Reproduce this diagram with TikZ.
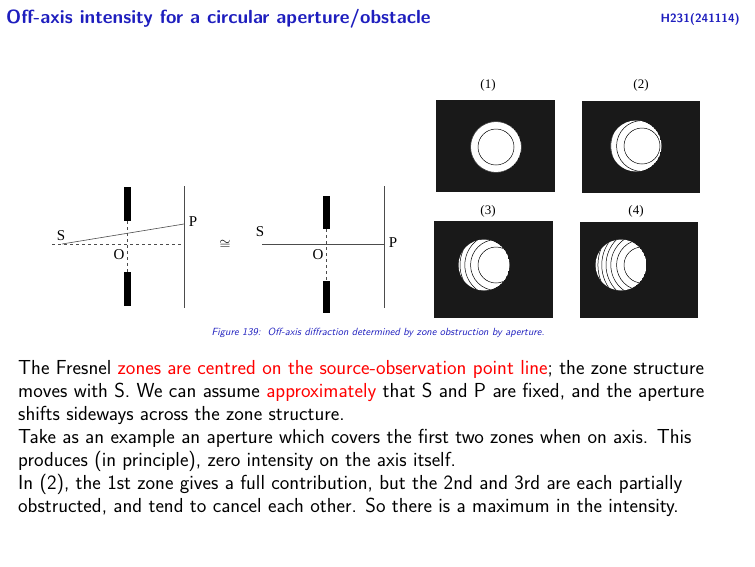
\documentclass[tikz,border=0pt]{standalone}
\usepackage{fontspec}
\newfontfamily\tms{Liberation Serif}
\usepackage{amssymb}
\begin{document}
\begin{tikzpicture}[x=1pt,y=-1pt,
  body/.style={anchor=base west,inner sep=0,font=\sffamily\fontsize{20.3}{24}\selectfont},
  lbl/.style={inner sep=0,font=\tms\fontsize{15}{16}\selectfont},
  plbl/.style={inner sep=0,font=\tms\fontsize{13}{14}\selectfont},
  bar/.style={fill=black},
  screen/.style={draw=black!70,line width=0.7pt},
  ray/.style={draw=black!70,line width=0.6pt},
  dsh/.style={draw=black!70,dashed,line width=0.6pt},
  zone/.style={draw=black,line width=0.5pt}]
\useasboundingbox (0,0) rectangle (755,566);
\definecolor{tblue}{RGB}{30,30,190}
\node[anchor=base west,inner sep=0,text=tblue,font=\sffamily\bfseries\fontsize{19}{22}\selectfont] (title) at (6,23) {Off-axis intensity for a circular aperture/obstacle};
\node[anchor=base east,inner sep=0,text=tblue,font=\sffamily\bfseries\fontsize{12}{14}\selectfont] (code) at (740,22) {H231(241114)};
% left diagram
\coordinate (s1) at (62,244); \coordinate (p1) at (184,224); \coordinate (d1) at (184,244); \coordinate (d0) at (52,244);
\draw[screen] (184,186) -- (184,308);
\fill[bar] (123.5,187) rectangle (130.5,221);
\fill[bar] (123.5,272) rectangle (130.5,306);
\draw[dsh] (127,221) -- (127,272);
\draw[dsh] (d0) -- (d1);
\draw[ray] (s1) -- (p1);
\node[lbl] (S1) at (61,236) {S};
\node[lbl] (O1) at (119,255) {O};
\node[lbl] (P1) at (193,222) {P};
\node[inner sep=0,font=\fontsize{14}{14}\selectfont] (approx) at (225,245) {$\cong$};
% right diagram
\coordinate (s2) at (262,244); \coordinate (p2) at (384,244);
\draw[screen] (384,186) -- (384,308);
\fill[bar] (322.5,196) rectangle (329.5,229);
\fill[bar] (322.5,281) rectangle (329.5,313);
\draw[dsh] (326,229) -- (326,281);
\draw[ray] (s2) -- (p2);
\node[lbl] (S2) at (260,232) {S};
\node[lbl] (O2) at (318,255) {O};
\node[lbl] (P2) at (393,243) {P};
% panels
\foreach \px/\py/\w/\h/\ax/\ay/\zx/\lab/\lx/\ly [count=\i] in
  {436/100/119/92/496/147/496/(1)/488/85, 582/101/118/92/636/146/642/(2)/641/85,
   434/221/119/97/484/265/496/(3)/488/211, 580/222/118/96/621/265/642/(4)/636/211}{
  \fill[black!90] (\px,\py) rectangle ++(\w,\h);
  \begin{scope}
    \clip (\ax,\ay) circle (25.5);
    \fill[white] (\ax,\ay) circle (25.5);
    \foreach \n in {1,...,8}{\draw[zone] (\zx,\ay) circle ({18*sqrt(\n)});}
  \end{scope}
  \node[plbl] (lab\i) at (\lx,\ly) {\lab};
}
\node[inner sep=0,text=tblue,font=\sffamily\itshape\fontsize{10.4}{12}\selectfont] (cap) at (378,333) {Figure 139:\ \ Off-axis diffraction determined by zone obstruction by aperture.};
% body
\node[body] (l1) at (18,374) {The Fresnel \textcolor{red}{zones are centred on the source-observation point line}; the zone structure};
\node[body] (l2) at (18,397) {moves with S. We can assume \textcolor{red}{approximately} that S and P are fixed, and the aperture};
\node[body] (l3) at (18,420) {shifts sideways across the zone structure.};
\node[body] (l4) at (18,443) {Take as an example an aperture which covers the first two zones when on axis. This};
\node[body] (l5) at (18,466) {produces (in principle), zero intensity on the axis itself.};
\node[body] (l6) at (18,489) {In (2), the 1st zone gives a full contribution, but the 2nd and 3rd are each partially};
\node[body] (l7) at (18,512) {obstructed, and tend to cancel each other. So there is a maximum in the intensity.};
\end{tikzpicture}
\end{document}
